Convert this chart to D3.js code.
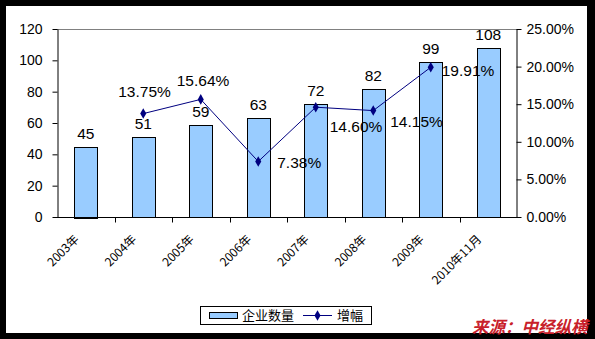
<!DOCTYPE html>
<html>
<head>
<meta charset="utf-8">
<script src="https://cdn.jsdelivr.net/npm/d3@7"></script>
<style>
  html, body { margin: 0; padding: 0; background: #000; }
  svg { display: block; }
</style>
</head>
<body>
<svg id="chart" width="595" height="339"></svg>
<script>
// Number of enterprises per year and year-on-year growth
const categories = ["2003年", "2004年", "2005年", "2006年", "2007年", "2008年", "2009年", "2010年11月"];
const companyCounts = [45, 51, 59, 63, 72, 82, 99, 108];
const growthCategories = ["2004年", "2005年", "2006年", "2007年", "2008年", "2009年"];
const growthRates = [0.1375, 0.1564, 0.0738, 0.1460, 0.1415, 0.1991];
const leftTicks = [0, 20, 40, 60, 80, 100, 120];
const rightTicks = [0, 0.05, 0.10, 0.15, 0.20, 0.25];
const legendLabels = ["企业数量", "增幅"];
const sourceNote = "来源：中经纵横";

// Label offsets (dx, dy) for the growth-rate labels, relative to each point
const growthLabelOffsets = [[-25, -17], [-24, -13], [19, 6], [14, 25], [17, 16], [11, 9]];

const svg = d3.select("#chart");
const W = 595, H = 339;
const plot = { left: 57, right: 517, top: 29, bottom: 217 };

const latin = "'Liberation Sans', Arial, sans-serif";
const cjk = "'Noto Sans CJK SC', 'Noto Sans', sans-serif";

// white chart area inside the black frame
svg.append("rect").attr("x", 0).attr("y", 0).attr("width", W).attr("height", H).attr("fill", "#000");
svg.append("rect").attr("x", 6).attr("y", 6).attr("width", 581).attr("height", 327).attr("fill", "#fff");

const x = d3.scaleBand().domain(categories).range([plot.left, plot.right]).padding(0);
const yLeft = d3.scaleLinear().domain([0, 120]).range([plot.bottom, plot.top]);
const yRight = d3.scaleLinear().domain([0, 0.25]).range([plot.bottom, plot.top]);

const barWidth = x.bandwidth() * 0.405;

// top border of the plot area
svg.append("line")
  .attr("x1", plot.left).attr("x2", plot.right)
  .attr("y1", plot.top + 0.5).attr("y2", plot.top + 0.5)
  .attr("stroke", "#808080").attr("stroke-width", 1);

// bars
svg.append("g").selectAll("rect")
  .data(categories)
  .join("rect")
  .attr("x", (d) => Math.round(x(d) + (x.bandwidth() - barWidth) / 2) + 0.5)
  .attr("y", (d, i) => Math.round(yLeft(companyCounts[i])) + 0.5)
  .attr("width", Math.round(barWidth))
  .attr("height", (d, i) => Math.round(plot.bottom - yLeft(companyCounts[i])))
  .attr("fill", "#99ccff")
  .attr("stroke", "#000")
  .attr("stroke-width", 1);

// bar value labels
svg.append("g").selectAll("text")
  .data(categories)
  .join("text")
  .attr("x", (d) => x(d) + x.bandwidth() / 2)
  .attr("y", (d, i) => yLeft(companyCounts[i]) - 8)
  .attr("text-anchor", "middle")
  .attr("font-family", latin)
  .attr("font-size", 15.5)
  .attr("fill", "#000")
  .text((d, i) => companyCounts[i]);

// left axis
const axisL = svg.append("g")
  .attr("transform", `translate(${plot.left + 0.5},0)`)
  .call(d3.axisLeft(yLeft).tickValues(leftTicks).tickSize(5).tickPadding(10).tickSizeOuter(0));
// right axis
const axisR = svg.append("g")
  .attr("transform", `translate(${plot.right - 0.5},0)`)
  .call(d3.axisRight(yRight).tickValues(rightTicks).tickSize(5).tickPadding(5).tickSizeOuter(0)
    .tickFormat(d3.format(".2%")));
[axisL, axisR].forEach((g) => {
  g.select(".domain").attr("stroke", "#000");
  g.selectAll(".tick line").attr("stroke", "#000");
  g.selectAll(".tick text").attr("font-family", latin).attr("font-size", 14).attr("fill", "#000");
});

// bottom axis with ticks between categories
const axisB = svg.append("g").attr("transform", `translate(0,${plot.bottom + 0.5})`);
axisB.append("line")
  .attr("x1", plot.left).attr("x2", plot.right)
  .attr("stroke", "#000");
axisB.selectAll("line.tk")
  .data(categories.slice(1))
  .join("line")
  .attr("class", "tk")
  .attr("x1", (d) => Math.round(x(d)) + 0.5)
  .attr("x2", (d) => Math.round(x(d)) + 0.5)
  .attr("y1", 0).attr("y2", 5)
  .attr("stroke", "#000");

// rotated category labels
svg.append("g").selectAll("text")
  .data(categories)
  .join("text")
  .attr("transform", (d) => `translate(${x(d) + x.bandwidth() / 2 - 6},${240}) rotate(-45)`)
  .attr("text-anchor", "end")
  .attr("font-family", cjk)
  .attr("font-size", 12)
  .attr("fill", "#000")
  .text((d) => d);

// growth line
const growthPts = growthCategories.map((c, i) => [x(c) + x.bandwidth() / 2, yRight(growthRates[i])]);
svg.append("path")
  .attr("d", d3.line()(growthPts))
  .attr("fill", "none")
  .attr("stroke", "#000080")
  .attr("stroke-width", 1);

const diamond = d3.symbol().type(d3.symbolDiamond).size(32);
svg.append("g").selectAll("path")
  .data(growthPts)
  .join("path")
  .attr("transform", (d) => `translate(${d[0]},${d[1]})`)
  .attr("d", diamond)
  .attr("fill", "#000080");

svg.append("g").selectAll("text")
  .data(growthPts)
  .join("text")
  .attr("x", (d, i) => d[0] + growthLabelOffsets[i][0])
  .attr("y", (d, i) => d[1] + growthLabelOffsets[i][1])
  .attr("font-family", latin)
  .attr("font-size", 15.5)
  .attr("fill", "#000")
  .text((d, i) => d3.format(".2%")(growthRates[i]));

// legend
const lg = svg.append("g");
lg.append("rect")
  .attr("x", 200.5).attr("y", 306.5).attr("width", 171).attr("height", 18)
  .attr("fill", "#fff").attr("stroke", "#000");
lg.append("rect")
  .attr("x", 209.5).attr("y", 312.5).attr("width", 28).attr("height", 6)
  .attr("fill", "#99ccff").attr("stroke", "#000");
lg.append("text")
  .attr("x", 242).attr("y", 320)
  .attr("font-family", cjk).attr("font-size", 13).attr("fill", "#000")
  .text(legendLabels[0]);
lg.append("line")
  .attr("x1", 303).attr("x2", 332).attr("y1", 315.5).attr("y2", 315.5)
  .attr("stroke", "#000080");
lg.append("path")
  .attr("transform", "translate(317.5,315.5)")
  .attr("d", diamond)
  .attr("fill", "#000080");
lg.append("text")
  .attr("x", 337).attr("y", 320)
  .attr("font-family", cjk).attr("font-size", 13).attr("fill", "#000")
  .text(legendLabels[1]);

// source note
svg.append("text")
  .attr("x", 472).attr("y", 333)
  .attr("font-family", cjk)
  .attr("font-size", 16.5)
  .attr("font-weight", "bold")
  .attr("font-style", "italic")
  .attr("fill", "#c8202a")
  .text(sourceNote);
</script>
</body>
</html>
